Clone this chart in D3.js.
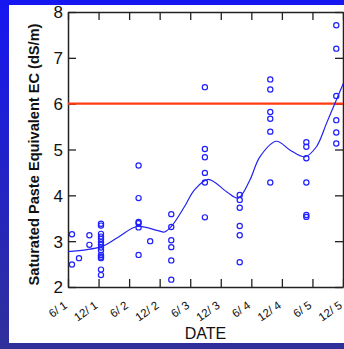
<!DOCTYPE html>
<html>
<head>
<meta charset="utf-8">
<script src="https://cdn.jsdelivr.net/npm/d3@7"></script>
<style>
html,body{margin:0;padding:0;background:#fff;}
svg{display:block;}
text{font-family:"Liberation Sans",Arial,sans-serif;}
</style>
</head>
<body>
<svg id="chart" width="344" height="349"></svg>
<script>
// Tick labels (half-year positions 0..9)
const dateLabels = ["6/ 1","12/ 1","6/ 2","12/ 2","6/ 3","12/ 3","6/ 4","12/ 4","6/ 5","12/ 5"];
const yTicks = [2,3,4,5,6,7,8];
// Observed EC samples: x = half-years since 6/1
const sampleX = [
  0.13,0.13,0.36,0.70,0.70,
  1.08,1.08,1.08,1.08,1.08,1.08,1.08,1.08,1.08,1.08,1.08,1.08,1.08,1.08,
  2.31,2.31,2.31,2.31,2.31,2.31,
  2.69,
  3.38,3.38,3.38,3.38,3.38,3.38,
  4.48,4.48,4.48,4.48,4.48,4.48,
  5.62,5.62,5.62,5.62,5.62,5.62,
  6.62,6.62,6.62,6.62,6.62,6.62,
  7.80,7.80,7.80,7.80,7.80,7.80,
  8.78,8.78,8.78,8.78,8.78,8.78
];
const sampleEC = [
  3.15,2.49,2.63,3.13,2.92,
  3.38,3.34,3.16,3.10,3.05,2.98,2.92,2.86,2.80,2.70,2.66,2.63,2.38,2.26,
  4.65,3.94,3.42,3.39,3.30,2.70,
  3.00,
  3.59,3.31,3.02,2.87,2.58,2.16,
  6.36,5.01,4.83,4.49,4.28,3.52,
  4.01,3.90,3.73,3.33,3.13,2.54,
  6.53,6.31,5.82,5.67,5.39,4.28,
  5.16,5.06,4.81,4.28,3.57,3.53,
  7.71,7.20,6.17,5.64,5.37,5.13
];
// Smoothed trend
const trendX = [0,1.09,1.63,2.26,2.94,3.16,3.38,3.81,4.14,4.59,5.19,5.57,5.95,6.28,6.82,7.26,7.75,8.13,8.46,8.73,9.05];
const trendEC = [2.77,2.88,3.08,3.32,3.23,3.20,3.32,3.75,4.12,4.35,4.08,3.94,4.33,4.84,5.18,4.99,4.84,5.06,5.57,6.0,6.50];
const threshold = 6;

const svg = d3.select("#chart");
const W = 344, H = 349;
const defs = svg.append("defs");
const grad = defs.append("linearGradient").attr("id","bg").attr("x1",0).attr("y1",0).attr("x2",0).attr("y2",1);
grad.append("stop").attr("offset","0%").attr("stop-color","#1616f2");
grad.append("stop").attr("offset","100%").attr("stop-color","#30309a");
svg.append("rect").attr("width",W).attr("height",H).attr("fill","url(#bg)");
svg.append("rect").attr("x",9).attr("y",5).attr("width",W-9).attr("height",338).attr("fill","#fff");

const m = {l:68, t:12, r:343, b:287};
const x = d3.scaleLinear().domain([0,9]).range([m.l,m.r]);
const y = d3.scaleLinear().domain([2,8]).range([m.b,m.t]);

defs.append("clipPath").attr("id","clip").append("rect")
  .attr("x",m.l).attr("y",m.t).attr("width",m.r-m.l).attr("height",m.b-m.t);

const tickVals = d3.range(0,10);
const gb = svg.append("g").attr("transform",`translate(0,${m.b})`)
  .call(d3.axisBottom(x).tickValues(tickVals).tickSizeInner(-8).tickSizeOuter(0).tickFormat(""));
const gt = svg.append("g").attr("transform",`translate(0,${m.t})`)
  .call(d3.axisTop(x).tickValues(tickVals).tickSizeInner(-8).tickSizeOuter(0).tickFormat(""));
const gl = svg.append("g").attr("transform",`translate(${m.l},0)`)
  .call(d3.axisLeft(y).tickValues(yTicks).tickSizeInner(-8).tickSizeOuter(0).tickPadding(5).tickFormat(d3.format("d")));
const gr = svg.append("g").attr("transform",`translate(${m.r},0)`)
  .call(d3.axisRight(y).tickValues(yTicks).tickSizeInner(-8).tickSizeOuter(0).tickFormat(""));
[gb,gt,gl,gr].forEach(g=>{
  g.select(".domain").attr("stroke","#222").attr("stroke-width",1.5);
  g.selectAll(".tick line").attr("stroke","#222").attr("stroke-width",1.3);
});
gl.selectAll(".tick text").attr("font-size",17).attr("fill","#111").attr("dy","0.35em")
  .attr("font-family","'Liberation Sans',Arial,sans-serif");

// rotated date labels
svg.append("g").selectAll("text").data(tickVals).join("text")
  .attr("transform",d=>`translate(${x(d)},${m.b+20}) rotate(-35)`)
  .attr("text-anchor","end")
  .attr("font-size",11.5)
  .attr("fill","#111")
  .text(d=>dateLabels[d]);

// threshold line
svg.append("line")
  .attr("x1",m.l).attr("x2",m.r).attr("y1",y(threshold)).attr("y2",y(threshold))
  .attr("stroke","#ff3b12").attr("stroke-width",2.2);

// trend
const pts = trendX.map((v,i)=>[v,trendEC[i]]);
svg.append("path").attr("clip-path","url(#clip)")
  .datum(pts)
  .attr("d",d3.line().x(d=>x(d[0])).y(d=>y(d[1])).curve(d3.curveCatmullRom.alpha(0.5)))
  .attr("fill","none").attr("stroke","#2222ee").attr("stroke-width",1.2);

// samples
svg.append("g").selectAll("circle").data(sampleX.map((v,i)=>[v,sampleEC[i]])).join("circle")
  .attr("cx",d=>x(d[0])).attr("cy",d=>y(d[1])).attr("r",2.6)
  .attr("fill","none").attr("stroke","#1f1fff").attr("stroke-width",1.2);

// axis titles
svg.append("text").attr("x",(m.l+m.r)/2).attr("y",339).attr("text-anchor","middle")
  .attr("font-size",16).attr("fill","#111").text("DATE");
svg.append("text").attr("transform",`translate(39,${(m.t+m.b)/2+5}) rotate(-90)`)
  .attr("text-anchor","middle").attr("font-size",14.6).attr("font-weight","bold").attr("fill","#111")
  .text("Saturated Paste Equivalent EC (dS/m)");
</script>
</body>
</html>
